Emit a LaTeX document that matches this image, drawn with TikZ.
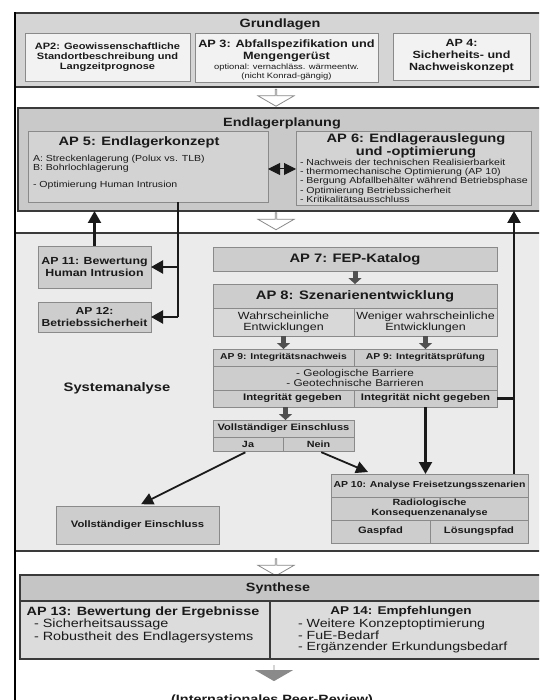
\documentclass[tikz,border=0pt]{standalone}
\usepackage{fontspec}
\setmainfont{Liberation Sans}[FakeStretch=1.2]
\usetikzlibrary{arrows.meta,shapes.arrows,calc}
\definecolor{bandA}{HTML}{D5D5D5}
\definecolor{bandB}{HTML}{C9C9C9}
\definecolor{bandC}{HTML}{EBEBEB}
\definecolor{bandD}{HTML}{C5C5C5}
\definecolor{boxA}{HTML}{F2F2F2}
\definecolor{boxB}{HTML}{D3D3D3}
\definecolor{boxC}{HTML}{CDCDCD}
\definecolor{boxD}{HTML}{D8D8D8}
\definecolor{boxE}{HTML}{DCDCDC}
\definecolor{edgeA}{HTML}{3A3A3A}
\definecolor{edgeB}{HTML}{8A8A8A}
\definecolor{ink}{HTML}{1A1A1A}
\definecolor{blk}{HTML}{505050}
\newcommand\fsz[2]{\fontsize{#1}{#2}\selectfont}
\begin{document}
\begin{tikzpicture}[x=1pt,y=-1pt,
  every node/.style={inner sep=0pt, outer sep=0pt, text=ink},
  nw/.style={anchor=north west},
  band/.style={nw, draw=edgeA, line width=1.6pt},
  cell/.style={nw, draw=edgeB, line width=0.9pt, fill=boxC, align=center},
  lcell/.style={cell, fill=boxA},
  mcell/.style={cell, fill=boxB},
  scell/.style={cell, fill=boxE, draw=edgeA, line width=1.1pt},
  head/.style={font=\bfseries\fsz{12}{14}},
  harrow/.style={single arrow, draw=edgeB, fill=white, line width=0.8pt, shape border rotate=270,
     minimum height=17pt, minimum width=36pt, single arrow head extend=9pt, single arrow tip angle=120},
  conn/.style={draw=ink, line width=2.2pt},
  tip/.style={-{Triangle[width=13pt,length=12pt]}},
  diag/.style={draw=ink, line width=1.8pt, -{Triangle[width=12pt,length=12pt]}},
  blockarr/.style={draw=blk, line width=5pt, -{Triangle[width=13pt,length=6pt]}},
  lst/.style={anchor=base west, align=left}
]
\clip (0,0) rectangle (539,700);
\fill[white] (0,0) rectangle (539,700);

% ---------- Grundlagen
\node[band, fill=bandA, minimum width=535pt, minimum height=74pt] (grund) at (15,13) {};
\node[head] (grundT) at (280,24) {Grundlagen};
\node[lcell, minimum width=165pt, minimum height=48pt, font=\bfseries\fsz{9.2}{10.2}] (ap2) at (25,33)
  {AP2: Geowissenschaftliche\\Standortbeschreibung und\\Langzeitprognose};
\node[lcell, minimum width=183pt, minimum height=49pt] (ap3) at (195,33) {};
\node[font=\bfseries\fsz{10.6}{12}, align=center] (ap3T) at (286.5,51) {AP 3: Abfallspezifikation und\\Mengengerüst};
\node[font=\fsz{7.8}{9}, align=center] (ap3S) at (286.5,72) {optional: vernachläss. wärmeentw.\\(nicht Konrad-gängig)};
\node[lcell, minimum width=137pt, minimum height=47pt, font=\bfseries\fsz{10.4}{12}] (ap4) at (393,33)
  {AP 4:\\Sicherheits- und\\Nachweiskonzept};

\node[harrow] (h1) at (276,97.5) {};

% ---------- Endlagerplanung
\node[band, fill=bandB, line width=2pt, minimum width=532pt, minimum height=103pt] (endl) at (18,108) {};
\node[head] (endlT) at (282,123) {Endlagerplanung};
\node[mcell, minimum width=240pt, minimum height=71pt] (ap5) at (28,131.5) {};
\node[mcell, minimum width=235pt, minimum height=74pt] (ap6) at (296,131) {};
\node[font=\bfseries\fsz{12.2}{14}] (ap5T) at (139,142.5) {AP 5: Endlagerkonzept};
\node[lst, font=\fsz{8.8}{9}] (ap5a) at (33,162) {A: Streckenlagerung (Polux vs. TLB)};
\node[lst, font=\fsz{8.8}{9}] (ap5b) at (33,171) {B: Bohrlochlagerung};
\node[lst, font=\fsz{8.8}{9}] (ap5c) at (33,188) {- Optimierung Human Intrusion};
\node[font=\bfseries\fsz{12.2}{13}, align=center] (ap6T) at (416,145.5) {AP 6: Endlagerauslegung\\und -optimierung};
\node[lst, font=\fsz{8.8}{9.3}, anchor=north west] (ap6l) at (300,159)
  {- Nachweis der technischen Realisierbarkeit\\
   - thermomechanische Optimierung (AP 10)\\
   - Bergung Abfallbehälter während Betriebsphase\\
   - Optimierung Betriebssicherheit\\
   - Kritikalitätsausschluss};
\draw[draw=ink, line width=1pt, {Triangle[width=12pt,length=12pt]}-{Triangle[width=12pt,length=12pt]}]
  (ap5.east |- 0,169) -- (ap6.west |- 0,169);

\node[harrow] (h2) at (276,221) {};

% ---------- Systemanalyse
\node[band, fill=bandC, minimum width=535pt, minimum height=318pt] (sys) at (15,233) {};
\node[cell, minimum width=113pt, minimum height=42pt, font=\bfseries\fsz{10.3}{11.5}] (ap11) at (38,246)
  {AP 11: Bewertung\\Human Intrusion};
\node[cell, minimum width=113pt, minimum height=30pt, font=\bfseries\fsz{10.1}{11.5}] (ap12) at (38,302)
  {AP 12:\\Betriebssicherheit};
\node[head, font=\bfseries\fsz{12.3}{14}] (sysT) at (117,388) {Systemanalyse};

\node[cell, minimum width=284pt, minimum height=24pt, font=\bfseries\fsz{12.3}{14}] (ap7) at (213,247) {AP 7: FEP-Katalog};
\node[cell, minimum width=284pt, minimum height=24pt, font=\bfseries\fsz{12.3}{14}] (ap8) at (213,284) {AP 8: Szenarienentwicklung};
\node[cell, fill=boxD, minimum width=141pt, minimum height=28pt, font=\fsz{10.4}{11}] (w1) at (213,308)
  {Wahrscheinliche\\Entwicklungen};
\node[cell, fill=boxD, minimum width=143pt, minimum height=28pt, font=\fsz{10.4}{11}] (w2) at (354,308)
  {Weniger wahrscheinliche\\Entwicklungen};
\node[cell, minimum width=141pt, minimum height=17pt, font=\bfseries\fsz{8.6}{10}] (ap9a) at (213,349) {AP 9: Integritätsnachweis};
\node[cell, minimum width=143pt, minimum height=17pt, font=\bfseries\fsz{8.6}{10}] (ap9b) at (354,349) {AP 9: Integritätsprüfung};
\node[cell, minimum width=284pt, minimum height=24pt, font=\fsz{9.8}{10.5}] (bar) at (213,366)
  {- Geologische Barriere\\- Geotechnische Barrieren};
\node[cell, minimum width=141pt, minimum height=17pt, font=\bfseries\fsz{9.5}{10}] (ig) at (213,390) {\hspace*{18pt}Integrität gegeben};
\node[cell, minimum width=143pt, minimum height=17pt, font=\bfseries\fsz{9.5}{10}] (ng) at (354,390) {Integrität nicht gegeben};
\node[cell, minimum width=141pt, minimum height=17pt, font=\bfseries\fsz{9.3}{10}] (ve) at (213,420) {Vollständiger Einschluss};
\node[cell, minimum width=70pt, minimum height=14pt, font=\bfseries\fsz{9}{10}] (ja) at (213,437) {Ja};
\node[cell, minimum width=71pt, minimum height=14pt, font=\bfseries\fsz{9}{10}] (nein) at (283,437) {Nein};
\node[cell, minimum width=163pt, minimum height=38pt, font=\bfseries\fsz{9.4}{10}] (ve2) at (56,506) {Vollständiger Einschluss};
\node[cell, minimum width=197pt, minimum height=23pt, font=\bfseries\fsz{8.7}{10}] (ap10) at (331,474) {AP 10: Analyse Freisetzungsszenarien};
\node[cell, minimum width=197pt, minimum height=23pt, font=\bfseries\fsz{9}{10.2}] (rad) at (331,497) {Radiologische\\Konsequenzenanalyse};
\node[cell, minimum width=99pt, minimum height=23pt, font=\bfseries\fsz{9.3}{10}] (gas) at (331,520) {Gaspfad};
\node[cell, minimum width=98pt, minimum height=23pt, font=\bfseries\fsz{9.3}{10}] (loes) at (430,520) {Lösungspfad};

% block arrows
\draw[blockarr] (ap7.south) -- (ap8.north);
\draw[blockarr] (w1.south) -- (ap9a.north);
\draw[blockarr] (w2.south) -- (ap9b.north);
\draw[blockarr] ($(ig.south)+(2,0)$) -- ($(ve.north)+(2,0)$);

% thick connectors
\coordinate (jA) at (178,267);
\coordinate (jB) at (178,317);
\coordinate (rj) at (514,398.5);
\coordinate (ntip) at (368,472);
\draw[conn] (ap5.south -| jA) -- (jB);
\draw[conn, tip] (jA) -- (ap11.east);
\draw[conn, tip] (jB) -- (ap12.east);
\draw[conn, tip] (ap11.north) -- (ap11.north |- endl.south);
\draw[conn] (ng.east) -- (rj);
\draw[conn, tip] (ap10.north -| rj) -- (endl.south -| rj);
\draw[conn, tip] (ng.south) -- (ap10.north -| ng.south);
\draw[diag, shorten <=3pt, shorten >=4pt] (ja.south) -- (ve2.north);
\draw[diag, shorten <=3pt] (nein.south) -- (ntip);

\node[harrow] (h3) at (276,567) {};

% ---------- Synthese
\node[scell, fill=bandD, minimum width=530pt, minimum height=26pt] (synH) at (20,575) {};
\node[head] (synT) at (278,588) {Synthese};
\node[scell, minimum width=250pt, minimum height=58pt] (ap13) at (20,601) {};
\node[scell, minimum width=280pt, minimum height=58pt] (ap14) at (270,601) {};
\node[font=\bfseries\fsz{12}{13}] (ap13T) at (143,612) {AP 13: Bewertung der Ergebnisse};
\node[lst, anchor=north west, font=\fsz{12}{12.5}] (ap13l) at (34,619)
  {- Sicherheitsaussage\\- Robustheit des Endlagersystems};
\node[font=\bfseries\fsz{11.3}{13}] (ap14T) at (401,612) {AP 14: Empfehlungen};
\node[lst, anchor=north west, font=\fsz{11.8}{11.6}] (ap14l) at (298,619)
  {- Weitere Konzeptoptimierung\\- FuE-Bedarf\\- Ergänzender Erkundungsbedarf};

\node[single arrow, draw=none, fill=edgeB, shape border rotate=270, minimum height=16pt,
  minimum width=38pt, single arrow head extend=9.5pt, single arrow tip angle=120] (fa) at (274,673) {};
\node[font=\bfseries\fsz{12}{14}, anchor=base] (peer) at (272,703.5) {(Internationales Peer-Review)};

% ---------- outer frame
\draw[black, line width=2.6pt] (15,702) -- (15,12.5);
\end{tikzpicture}
\end{document}
